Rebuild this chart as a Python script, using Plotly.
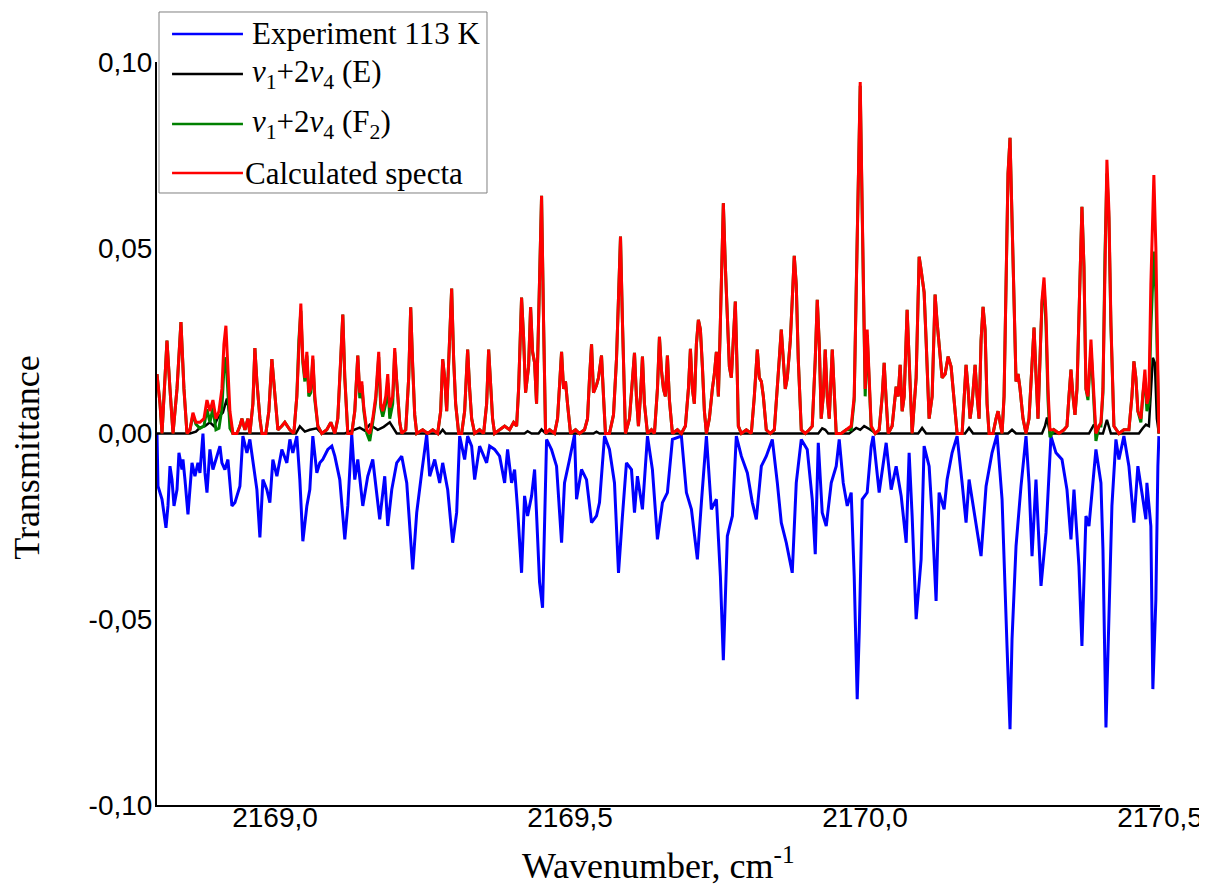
import plotly.graph_objects as go

# Wavenumber grid for calculated spectra (cm-1)
CALC_WN = [
    2168.8000, 2168.8051, 2168.8085, 2168.8119, 2168.8169, 2168.8220, 2168.8271, 2168.8339, 2168.8406, 2168.8457,
    2168.8508, 2168.8559, 2168.8609, 2168.8660, 2168.8728, 2168.8796, 2168.8847, 2168.8897, 2168.8948, 2168.8999,
    2168.9050, 2168.9100, 2168.9134, 2168.9168, 2168.9202, 2168.9236, 2168.9287, 2168.9354, 2168.9405, 2168.9439,
    2168.9490, 2168.9541, 2168.9574, 2168.9625, 2168.9659, 2168.9693, 2168.9744, 2168.9778, 2168.9845, 2168.9896,
    2168.9947, 2168.9998, 2169.0049, 2169.0116, 2169.0167, 2169.0252, 2169.0319, 2169.0370, 2169.0404, 2169.0438,
    2169.0472, 2169.0506, 2169.0540, 2169.0573, 2169.0607, 2169.0641, 2169.0675, 2169.0726, 2169.0793, 2169.0878,
    2169.0946, 2169.1014, 2169.1064, 2169.1115, 2169.1149, 2169.1183, 2169.1234, 2169.1301, 2169.1352, 2169.1403,
    2169.1437, 2169.1471, 2169.1505, 2169.1555, 2169.1606, 2169.1657, 2169.1708, 2169.1758, 2169.1792, 2169.1826,
    2169.1877, 2169.1911, 2169.1945, 2169.1995, 2169.2029, 2169.2063, 2169.2114, 2169.2148, 2169.2216, 2169.2266,
    2169.2300, 2169.2334, 2169.2368, 2169.2402, 2169.2503, 2169.2588, 2169.2673, 2169.2757, 2169.2808, 2169.2842,
    2169.2876, 2169.2910, 2169.2944, 2169.2994, 2169.3028, 2169.3062, 2169.3113, 2169.3164, 2169.3214, 2169.3265,
    2169.3299, 2169.3333, 2169.3384, 2169.3468, 2169.3536, 2169.3587, 2169.3621, 2169.3655, 2169.3688, 2169.3722,
    2169.3807, 2169.3892, 2169.3976, 2169.4044, 2169.4095, 2169.4129, 2169.4179, 2169.4213, 2169.4247, 2169.4298,
    2169.4332, 2169.4366, 2169.4400, 2169.4433, 2169.4467, 2169.4501, 2169.4518, 2169.4552, 2169.4586, 2169.4653,
    2169.4738, 2169.4789, 2169.4823, 2169.4857, 2169.4891, 2169.4924, 2169.4958, 2169.5009, 2169.5094, 2169.5161,
    2169.5246, 2169.5297, 2169.5331, 2169.5365, 2169.5398, 2169.5449, 2169.5483, 2169.5534, 2169.5568, 2169.5601,
    2169.5669, 2169.5737, 2169.5788, 2169.5822, 2169.5856, 2169.5889, 2169.5940, 2169.6008, 2169.6059, 2169.6093,
    2169.6126, 2169.6160, 2169.6194, 2169.6228, 2169.6262, 2169.6313, 2169.6380, 2169.6431, 2169.6482, 2169.6516,
    2169.6550, 2169.6584, 2169.6617, 2169.6651, 2169.6685, 2169.6736, 2169.6821, 2169.6888, 2169.6956, 2169.7007,
    2169.7041, 2169.7074, 2169.7108, 2169.7142, 2169.7176, 2169.7210, 2169.7244, 2169.7278, 2169.7312, 2169.7362,
    2169.7413, 2169.7447, 2169.7481, 2169.7515, 2169.7549, 2169.7582, 2169.7599, 2169.7633, 2169.7667, 2169.7701,
    2169.7735, 2169.7769, 2169.7802, 2169.7836, 2169.7853, 2169.7904, 2169.7989, 2169.8073, 2169.8124, 2169.8175,
    2169.8209, 2169.8243, 2169.8277, 2169.8327, 2169.8395, 2169.8463, 2169.8497, 2169.8547, 2169.8581, 2169.8615,
    2169.8649, 2169.8683, 2169.8734, 2169.8767, 2169.8801, 2169.8835, 2169.8869, 2169.8920, 2169.8988, 2169.9055,
    2169.9106, 2169.9157, 2169.9191, 2169.9225, 2169.9258, 2169.9292, 2169.9326, 2169.9360, 2169.9394, 2169.9445,
    2169.9479, 2169.9512, 2169.9597, 2169.9682, 2169.9766, 2169.9817, 2169.9851, 2169.9885, 2169.9919, 2169.9953,
    2169.9986, 2170.0003, 2170.0037, 2170.0071, 2170.0105, 2170.0173, 2170.0240, 2170.0291, 2170.0325, 2170.0359,
    2170.0393, 2170.0460, 2170.0494, 2170.0528, 2170.0562, 2170.0596, 2170.0630, 2170.0664, 2170.0714, 2170.0748,
    2170.0799, 2170.0867, 2170.0918, 2170.0951, 2170.1002, 2170.1036, 2170.1087, 2170.1138, 2170.1188, 2170.1222,
    2170.1256, 2170.1307, 2170.1358, 2170.1409, 2170.1459, 2170.1510, 2170.1561, 2170.1646, 2170.1679, 2170.1713,
    2170.1747, 2170.1781, 2170.1815, 2170.1866, 2170.1900, 2170.1933, 2170.1967, 2170.2001, 2170.2035, 2170.2069,
    2170.2103, 2170.2170, 2170.2221, 2170.2255, 2170.2289, 2170.2323, 2170.2357, 2170.2391, 2170.2424, 2170.2458,
    2170.2492, 2170.2526, 2170.2560, 2170.2594, 2170.2628, 2170.2678, 2170.2729, 2170.2780, 2170.2831, 2170.2865,
    2170.2898, 2170.2932, 2170.2966, 2170.3000, 2170.3034, 2170.3068, 2170.3102, 2170.3135, 2170.3203, 2170.3288,
    2170.3372, 2170.3423, 2170.3457, 2170.3491, 2170.3525, 2170.3559, 2170.3593, 2170.3643, 2170.3677, 2170.3711,
    2170.3745, 2170.3779, 2170.3830, 2170.3864, 2170.3914, 2170.3965, 2170.3999, 2170.4033, 2170.4067, 2170.4100,
    2170.4134, 2170.4168, 2170.4219, 2170.4304, 2170.4388, 2170.4473, 2170.4524, 2170.4558, 2170.4591, 2170.4625,
    2170.4676, 2170.4710, 2170.4744, 2170.4778, 2170.4812, 2170.4845, 2170.4879, 2170.4896, 2170.4930, 2170.4964,
    2170.4981,
]

# Calculated spectrum (red)
CALC_TOTAL = [
    0.016, 0.008, 0.000, 0.010, 0.025, 0.012, 0.000, 0.012, 0.030, 0.012,
    0.000, 0.001, 0.0056, 0.003, 0.003, 0.004, 0.009, 0.006, 0.009, 0.004,
    0.006, 0.012, 0.024, 0.029, 0.018, 0.006, 0.000, 0.000, 0.002, 0.004,
    0.001, 0.004, 0.000, 0.008, 0.023, 0.014, 0.004, 0.000, 0.000, 0.006,
    0.020, 0.010, 0.001, 0.002, 0.003, 0.001, 0.000, 0.010, 0.025, 0.035,
    0.020, 0.015, 0.022, 0.011, 0.012, 0.021, 0.010, 0.002, 0.000, 0.001,
    0.003, 0.000, 0.004, 0.020, 0.032, 0.015, 0.000, 0.000, 0.006, 0.021,
    0.011, 0.014, 0.007, 0.001, 0.000, 0.004, 0.010, 0.022, 0.008, 0.006,
    0.010, 0.016, 0.007, 0.010, 0.023, 0.014, 0.003, 0.000, 0.001, 0.015,
    0.034, 0.018, 0.005, 0.000, 0.001, 0.000, 0.001, 0.000, 0.006, 0.020,
    0.015, 0.006, 0.018, 0.039, 0.020, 0.008, 0.000, 0.000, 0.006, 0.0226,
    0.012, 0.004, 0.000, 0.001, 0.000, 0.008, 0.0226, 0.012, 0.004, 0.000,
    0.001, 0.002, 0.001, 0.003, 0.002, 0.012, 0.0366, 0.026, 0.011, 0.018,
    0.034, 0.022, 0.019, 0.008, 0.030, 0.055, 0.064, 0.030, 0.000, 0.001,
    0.000, 0.004, 0.014, 0.022, 0.012, 0.014, 0.008, 0.000, 0.001, 0.000,
    0.001, 0.004, 0.015, 0.024, 0.011, 0.013, 0.015, 0.021, 0.010, 0.000,
    0.000, 0.005, 0.020, 0.040, 0.053, 0.030, 0.000, 0.004, 0.015, 0.0217,
    0.010, 0.002, 0.010, 0.0207, 0.008, 0.000, 0.001, 0.000, 0.012, 0.026,
    0.017, 0.012, 0.010, 0.021, 0.009, 0.000, 0.001, 0.000, 0.002, 0.012,
    0.0228, 0.012, 0.008, 0.024, 0.0306, 0.028, 0.018, 0.006, 0.000, 0.004,
    0.012, 0.016, 0.022, 0.010, 0.030, 0.058, 0.062, 0.045, 0.030, 0.018,
    0.015, 0.026, 0.0355, 0.015, 0.002, 0.000, 0.001, 0.000, 0.010, 0.0226,
    0.015, 0.014, 0.010, 0.001, 0.000, 0.001, 0.008, 0.020, 0.028, 0.020,
    0.012, 0.015, 0.025, 0.036, 0.0478, 0.040, 0.020, 0.001, 0.000, 0.001,
    0.002, 0.020, 0.036, 0.024, 0.004, 0.010, 0.0226, 0.010, 0.004, 0.0226,
    0.010, 0.000, 0.000, 0.001, 0.002, 0.010, 0.040, 0.070, 0.0946, 0.060,
    0.020, 0.012, 0.028, 0.016, 0.002, 0.000, 0.001, 0.010, 0.019, 0.009,
    0.000, 0.002, 0.008, 0.0126, 0.010, 0.0185, 0.006, 0.010, 0.0333, 0.018,
    0.000, 0.015, 0.0476, 0.044, 0.038, 0.025, 0.004, 0.010, 0.0374, 0.030,
    0.024, 0.015, 0.016, 0.0207, 0.018, 0.008, 0.000, 0.000, 0.008, 0.0185,
    0.012, 0.004, 0.008, 0.0185, 0.010, 0.004, 0.025, 0.0341, 0.028, 0.008,
    0.000, 0.000, 0.004, 0.006, 0.003, 0.000, 0.010, 0.040, 0.070, 0.0796,
    0.060, 0.034, 0.014, 0.016, 0.012, 0.004, 0.000, 0.004, 0.018, 0.0285,
    0.016, 0.004, 0.020, 0.036, 0.042, 0.032, 0.012, 0.001, 0.001, 0.000,
    0.001, 0.002, 0.010, 0.0172, 0.010, 0.005, 0.012, 0.045, 0.061, 0.045,
    0.012, 0.010, 0.0253, 0.015, 0.000, 0.002, 0.003, 0.012, 0.050, 0.0737,
    0.060, 0.030, 0.002, 0.000, 0.001, 0.001, 0.010, 0.0194, 0.015, 0.006,
    0.004, 0.012, 0.0172, 0.008, 0.010, 0.040, 0.065, 0.0696, 0.050, 0.015,
    0.000,
]

# v1+2v4 (F2) band (green)
CALC_F2 = [
    0.016, 0.008, 0.000, 0.010, 0.025, 0.012, 0.000, 0.012, 0.030, 0.012,
    0.000, 0.001, 0.005, 0.0025, 0.0014, 0.002, 0.0065, 0.003, 0.0068, 0.001,
    0.0014, 0.0067, 0.0174, 0.0205, 0.0102, 0.0014, 0.000, 0.000, 0.002, 0.004,
    0.001, 0.004, 0.000, 0.008, 0.023, 0.014, 0.004, 0.000, 0.000, 0.006,
    0.020, 0.010, 0.001, 0.002, 0.003, 0.001, 0.000, 0.010, 0.025, 0.033,
    0.019, 0.014, 0.021, 0.010, 0.011, 0.020, 0.009, 0.002, 0.000, 0.001,
    0.003, 0.000, 0.004, 0.020, 0.032, 0.015, 0.000, 0.000, 0.006, 0.021,
    0.0095, 0.013, 0.0062, 0.0001, -0.002, 0.003, 0.009, 0.0206, 0.007, 0.0045,
    0.008, 0.0136, 0.004, 0.008, 0.022, 0.014, 0.003, 0.000, 0.001, 0.015,
    0.034, 0.018, 0.005, 0.000, 0.001, 0.000, 0.001, 0.000, 0.006, 0.020,
    0.015, 0.006, 0.018, 0.039, 0.020, 0.008, 0.000, 0.000, 0.006, 0.0226,
    0.012, 0.004, 0.000, 0.001, 0.000, 0.008, 0.0226, 0.012, 0.004, 0.000,
    0.001, 0.002, 0.001, 0.003, 0.002, 0.012, 0.0366, 0.026, 0.011, 0.018,
    0.034, 0.022, 0.019, 0.008, 0.030, 0.055, 0.064, 0.030, 0.000, 0.001,
    0.000, 0.004, 0.014, 0.022, 0.012, 0.014, 0.008, 0.000, 0.001, 0.000,
    0.001, 0.004, 0.015, 0.024, 0.011, 0.013, 0.015, 0.021, 0.010, 0.000,
    0.000, 0.005, 0.020, 0.040, 0.053, 0.030, 0.000, 0.004, 0.015, 0.0217,
    0.010, 0.002, 0.010, 0.0207, 0.008, 0.000, 0.001, 0.000, 0.012, 0.026,
    0.017, 0.012, 0.010, 0.021, 0.009, 0.000, 0.001, 0.000, 0.002, 0.012,
    0.0228, 0.012, 0.008, 0.024, 0.0306, 0.028, 0.018, 0.006, 0.000, 0.004,
    0.012, 0.016, 0.022, 0.010, 0.030, 0.058, 0.062, 0.045, 0.030, 0.018,
    0.015, 0.026, 0.0355, 0.015, 0.002, 0.000, 0.001, 0.000, 0.010, 0.0226,
    0.015, 0.014, 0.010, 0.001, 0.000, 0.001, 0.008, 0.020, 0.028, 0.020,
    0.012, 0.015, 0.025, 0.036, 0.0478, 0.040, 0.020, 0.001, 0.000, 0.001,
    0.002, 0.020, 0.036, 0.024, 0.004, 0.010, 0.0226, 0.010, 0.004, 0.0226,
    0.010, 0.000, 0.000, 0.001, 0.001, 0.009, 0.0388, 0.069, 0.0936, 0.059,
    0.018, 0.010, 0.0265, 0.0148, 0.0015, 0.000, 0.001, 0.010, 0.019, 0.009,
    0.000, 0.002, 0.008, 0.0126, 0.010, 0.0185, 0.006, 0.010, 0.0333, 0.018,
    0.000, 0.015, 0.0476, 0.044, 0.038, 0.025, 0.004, 0.010, 0.0374, 0.030,
    0.024, 0.015, 0.016, 0.0207, 0.018, 0.008, 0.000, 0.000, 0.008, 0.0185,
    0.012, 0.004, 0.008, 0.0185, 0.010, 0.004, 0.025, 0.0341, 0.028, 0.008,
    0.000, 0.000, 0.004, 0.006, 0.003, 0.000, 0.010, 0.040, 0.070, 0.0796,
    0.060, 0.034, 0.014, 0.016, 0.012, 0.004, 0.000, 0.004, 0.018, 0.0285,
    0.016, 0.004, 0.020, 0.035, 0.040, 0.029, 0.009, -0.001, 0.001, 0.000,
    0.001, 0.002, 0.010, 0.0172, 0.010, 0.005, 0.012, 0.045, 0.061, 0.045,
    0.012, 0.009, 0.023, 0.013, -0.002, 0.002, 0.002, 0.011, 0.048, 0.070,
    0.058, 0.029, 0.002, 0.000, 0.001, 0.001, 0.010, 0.0194, 0.015, 0.006,
    0.003, 0.0105, 0.015, 0.006, 0.008, 0.028, 0.045, 0.049, 0.038, 0.012,
    0.000,
]

# v1+2v4 (E) band (black)
E_WN = [
    2168.8000, 2168.8559, 2168.8660, 2168.8728, 2168.8813, 2168.8897, 2168.8965, 2168.9033, 2168.9117, 2168.9185,
    2168.9236, 2168.9287, 2169.0353, 2169.0421, 2169.0506, 2169.0590, 2169.0709, 2169.0793, 2169.1183, 2169.1267,
    2169.1437, 2169.1521, 2169.1606, 2169.1742, 2169.1843, 2169.1945, 2169.2063, 2169.2791, 2169.2842, 2169.2893,
    2169.4230, 2169.4281, 2169.4349, 2169.4467, 2169.4518, 2169.4586, 2169.5398, 2169.5449, 2169.5500, 2169.9208,
    2169.9275, 2169.9326, 2169.9377, 2169.9732, 2169.9851, 2169.9919, 2169.9986, 2170.0071, 2170.0190, 2170.0901,
    2170.0968, 2170.1036, 2170.1696, 2170.1764, 2170.1832, 2170.2424, 2170.2492, 2170.2560, 2170.3000, 2170.3051,
    2170.3085, 2170.3135, 2170.3796, 2170.3880, 2170.3965, 2170.4033, 2170.4100, 2170.4168, 2170.4642, 2170.4710,
    2170.4761, 2170.4812, 2170.4845, 2170.4879, 2170.4913, 2170.4947, 2170.4981,
]
E_BAND = [
    0.0, 0.0, 0.0005, 0.0016, 0.002, 0.003, 0.002, 0.0043, 0.0056, 0.0094,
    0.0046, 0.0, 0.0, 0.0019, 0.0005, 0.001, 0.0014, 0.0, 0.0, 0.0005,
    0.0016, 0.0008, 0.0024, 0.001, 0.0018, 0.003, 0.0, 0.0, 0.001, 0.0,
    0.0, 0.0006, 0.0, 0.0, 0.0011, 0.0, 0.0, 0.0005, 0.0, 0.0,
    0.0014, 0.001, 0.0, 0.0, 0.0015, 0.001, 0.002, 0.0012, 0.0, 0.0,
    0.0015, 0.0, 0.0, 0.0015, 0.0, 0.0, 0.001, 0.0, 0.0, 0.002,
    0.0043, 0.0, 0.0, 0.0024, 0.0, 0.0, 0.0037, 0.0, 0.0, 0.0015,
    0.0024, 0.002, 0.012, 0.0204, 0.019, 0.004, 0.0,
]

# Experiment 113 K (blue)
EXP_WN = [
    2168.8000, 2168.8017, 2168.8085, 2168.8152, 2168.8186, 2168.8220, 2168.8254, 2168.8288, 2168.8339, 2168.8372,
    2168.8423, 2168.8440, 2168.8474, 2168.8525, 2168.8593, 2168.8643, 2168.8694, 2168.8728, 2168.8779, 2168.8813,
    2168.8847, 2168.8897, 2168.8948, 2168.9016, 2168.9067, 2168.9100, 2168.9151, 2168.9202, 2168.9270, 2168.9321,
    2168.9405, 2168.9456, 2168.9524, 2168.9574, 2168.9625, 2168.9693, 2168.9744, 2168.9795, 2168.9862, 2168.9913,
    2168.9964, 2169.0032, 2169.0116, 2169.0201, 2169.0252, 2169.0302, 2169.0370, 2169.0421, 2169.0472, 2169.0540,
    2169.0590, 2169.0641, 2169.0709, 2169.0760, 2169.0810, 2169.0895, 2169.0963, 2169.1014, 2169.1098, 2169.1183,
    2169.1234, 2169.1301, 2169.1352, 2169.1403, 2169.1488, 2169.1572, 2169.1657, 2169.1775, 2169.1860, 2169.1911,
    2169.1979, 2169.2063, 2169.2148, 2169.2233, 2169.2334, 2169.2402, 2169.2486, 2169.2571, 2169.2622, 2169.2707,
    2169.2791, 2169.2842, 2169.2927, 2169.3011, 2169.3079, 2169.3130, 2169.3214, 2169.3265, 2169.3333, 2169.3384,
    2169.3468, 2169.3587, 2169.3638, 2169.3722, 2169.3807, 2169.3892, 2169.3942, 2169.4010, 2169.4061, 2169.4112,
    2169.4179, 2169.4230, 2169.4281, 2169.4349, 2169.4400, 2169.4433, 2169.4484, 2169.4535, 2169.4569, 2169.4603,
    2169.4687, 2169.4772, 2169.4857, 2169.4907, 2169.4992, 2169.5077, 2169.5111, 2169.5195, 2169.5280, 2169.5365,
    2169.5449, 2169.5500, 2169.5585, 2169.5669, 2169.5754, 2169.5822, 2169.5889, 2169.5957, 2169.6042, 2169.6093,
    2169.6143, 2169.6228, 2169.6313, 2169.6397, 2169.6482, 2169.6567, 2169.6651, 2169.6736, 2169.6888, 2169.6973,
    2169.7058, 2169.7159, 2169.7227, 2169.7312, 2169.7396, 2169.7481, 2169.7549, 2169.7599, 2169.7667, 2169.7752,
    2169.7819, 2169.7904, 2169.8006, 2169.8090, 2169.8158, 2169.8243, 2169.8327, 2169.8429, 2169.8514, 2169.8581,
    2169.8666, 2169.8767, 2169.8835, 2169.8920, 2169.9021, 2169.9106, 2169.9157, 2169.9208, 2169.9275, 2169.9343,
    2169.9428, 2169.9512, 2169.9563, 2169.9631, 2169.9699, 2169.9766, 2169.9817, 2169.9868, 2169.9902, 2169.9953,
    2170.0037, 2170.0105, 2170.0139, 2170.0240, 2170.0359, 2170.0444, 2170.0528, 2170.0613, 2170.0698, 2170.0748,
    2170.0799, 2170.0867, 2170.0951, 2170.1002, 2170.1087, 2170.1138, 2170.1205, 2170.1256, 2170.1341, 2170.1392,
    2170.1476, 2170.1561, 2170.1646, 2170.1713, 2170.1764, 2170.1849, 2170.1967, 2170.2052, 2170.2153, 2170.2238,
    2170.2323, 2170.2407, 2170.2458, 2170.2492, 2170.2560, 2170.2644, 2170.2729, 2170.2780, 2170.2831, 2170.2898,
    2170.2983, 2170.3068, 2170.3152, 2170.3237, 2170.3339, 2170.3423, 2170.3491, 2170.3542, 2170.3626, 2170.3677,
    2170.3745, 2170.3796, 2170.3914, 2170.3999, 2170.4033, 2170.4084, 2170.4134, 2170.4185, 2170.4253, 2170.4304,
    2170.4388, 2170.4473, 2170.4558, 2170.4625, 2170.4693, 2170.4761, 2170.4778, 2170.4845, 2170.4879, 2170.4930,
    2170.4964, 2170.4981,
]
EXP_113K = [
    0.0, -0.0142, -0.0177, -0.0254, -0.0195, -0.0088, -0.0124, -0.0195, -0.0151, -0.0052,
    -0.0097, -0.0070, -0.0124, -0.0218, -0.0079, -0.0115, -0.0079, -0.0106, 0.0, -0.0106,
    -0.0159, -0.0043, -0.0097, -0.0061, -0.0034, -0.0079, -0.0097, -0.0070, -0.0195, -0.0186,
    -0.0142, -0.0007, -0.0052, -0.0016, -0.0079, -0.0151, -0.0280, -0.0124, -0.0151, -0.0186,
    -0.0070, -0.0115, -0.0043, -0.0079, -0.0016, -0.0052, -0.0007, -0.0124, -0.0290, -0.0195,
    -0.0151, -0.0007, -0.0106, -0.0079, -0.0070, -0.0043, -0.0034, -0.0061, -0.0124, -0.0285,
    -0.0195, -0.0003, -0.0124, -0.0070, -0.0195, -0.0115, -0.0070, -0.0231, -0.0115, -0.0249,
    -0.0151, -0.0079, -0.0061, -0.0133, -0.0366, -0.0213, -0.0106, -0.0003, -0.0115, -0.0070,
    -0.0133, -0.0079, -0.0151, -0.0294, -0.0213, -0.0007, -0.0070, -0.0007, -0.0034, -0.0124,
    -0.0034, -0.0079, -0.0034, -0.0043, -0.0061, -0.0133, -0.0043, -0.0133, -0.0097, -0.0204,
    -0.0375, -0.0168, -0.0222, -0.0168, -0.0097, -0.0222, -0.0401, -0.0469, -0.0222, -0.0016,
    -0.0043, -0.0088, -0.0294, -0.0133, -0.0070, -0.0003, -0.0177, -0.0097, -0.0124, -0.0240,
    -0.0222, -0.0186, -0.0007, -0.0043, -0.0133, -0.0375, -0.0222, -0.0079, -0.0097, -0.0213,
    -0.0115, -0.0204, -0.0007, -0.0097, -0.0285, -0.0186, -0.0159, -0.0016, -0.0007, -0.0159,
    -0.0204, -0.0339, -0.0186, -0.0007, -0.0204, -0.0177, -0.0384, -0.0610, -0.0276, -0.0222,
    -0.0007, -0.0061, -0.0106, -0.0186, -0.0231, -0.0088, -0.0061, -0.0016, -0.0133, -0.0240,
    -0.0294, -0.0375, -0.0133, -0.0016, -0.0043, -0.0177, -0.0325, -0.0025, -0.0213, -0.0249,
    -0.0133, -0.0088, -0.0016, -0.0133, -0.0195, -0.0159, -0.0384, -0.0715, -0.0536, -0.0177,
    -0.0159, -0.0034, -0.0007, -0.0159, -0.0025, -0.0151, -0.0088, -0.0168, -0.0294, -0.0052,
    -0.0222, -0.0500, -0.0339, -0.0034, -0.0088, -0.0222, -0.0451, -0.0159, -0.0204, -0.0124,
    -0.0052, -0.0007, -0.0133, -0.0240, -0.0124, -0.0213, -0.0330, -0.0142, -0.0052, -0.0003,
    -0.0177, -0.0572, -0.0796, -0.0554, -0.0303, -0.0142, -0.0007, -0.0133, -0.0330, -0.0124,
    -0.0410, -0.0267, -0.0007, -0.0052, -0.0070, -0.0151, -0.0285, -0.0151, -0.0357, -0.0572,
    -0.0222, -0.0249, -0.0043, -0.0133, -0.0312, -0.0791, -0.0491, -0.0195, -0.0016, -0.0070,
    -0.0007, -0.0088, -0.0240, -0.0088, -0.0159, -0.0231, -0.0133, -0.0249, -0.0688, -0.0446,
    -0.0088, -0.0007,
]

X_TICKS = [2169.0, 2169.5, 2170.0, 2170.5]
X_TICK_TEXT = ["2169,0", "2169,5", "2170,0", "2170,5"]
Y_TICKS = [-0.10, -0.05, 0.00, 0.05, 0.10]
Y_TICK_TEXT = ["-0,10", "-0,05", "0,00", "0,05", "0,10"]

SERIES_NAMES = [
    "Experiment 113 K",
    "<i>v</i><sub>1</sub>+2<i>v</i><sub>4</sub> (E)",
    "<i>v</i><sub>1</sub>+2<i>v</i><sub>4</sub> (F<sub>2</sub>)",
    "Calculated specta",
]
COLORS = ["#0000FF", "#000000", "#008000", "#FF0000"]

SERIF = "Liberation Serif, Times New Roman, serif"
SANS = "Liberation Sans, Arial, sans-serif"

fig = go.Figure()
fig.add_trace(go.Scatter(x=EXP_WN, y=EXP_113K, mode="lines",
                         line=dict(color=COLORS[0], width=3), name=SERIES_NAMES[0]))
fig.add_trace(go.Scatter(x=E_WN, y=E_BAND, mode="lines",
                         line=dict(color=COLORS[1], width=2.5), name=SERIES_NAMES[1]))
fig.add_trace(go.Scatter(x=CALC_WN, y=CALC_F2, mode="lines",
                         line=dict(color=COLORS[2], width=3), name=SERIES_NAMES[2]))
fig.add_trace(go.Scatter(x=CALC_WN, y=CALC_TOTAL, mode="lines",
                         line=dict(color=COLORS[3], width=3), name=SERIES_NAMES[3]))

axis_style = dict(showline=True, linecolor="black", linewidth=2, mirror=False,
                  showgrid=False, zeroline=False, ticks="", automargin=False,
                  ticklabeloverflow="allow")

# the page body adds an 8 px offset, so the figure is a little smaller than the window
fig.update_layout(
    width=1199, height=882,
    margin=dict(l=149, r=47, t=54, b=85),
    paper_bgcolor="white", plot_bgcolor="white",
    showlegend=False,
    xaxis=dict(range=[2168.8, 2170.5], tickvals=X_TICKS, ticktext=X_TICK_TEXT,
               ticklabelstandoff=-14, tickfont=dict(family=SANS, size=28, color="black"),
               **axis_style),
    yaxis=dict(range=[-0.1, 0.1], tickvals=Y_TICKS, ticktext=Y_TICK_TEXT,
               ticklabelstandoff=-3, tickfont=dict(family=SANS, size=28, color="black"),
               **axis_style),
)

# axis titles
fig.add_annotation(text="Transmittance", xref="paper", yref="paper", x=-0.151, y=0.468,
                   textangle=-90, showarrow=False, font=dict(family=SERIF, size=36, color="black"))
fig.add_annotation(text="Wavenumber, cm<sup>-1</sup>", xref="paper", yref="paper", x=0.5, y=-0.046,
                   xanchor="center", yanchor="top", showarrow=False,
                   font=dict(family=SERIF, size=36, color="black"))

# legend box drawn by hand to get the long line samples
fig.add_shape(type="rect", xref="paper", yref="paper", x0=0.002, x1=0.329, y0=0.8237, y1=1.0673,
              line=dict(color="#808080", width=1), fillcolor="white", layer="above")
row_y = [1.0377, 0.9839, 0.9166, 0.8506]
for i, name in enumerate(SERIES_NAMES):
    fig.add_shape(type="line", xref="paper", yref="paper", x0=0.015, x1=0.0857,
                  y0=row_y[i], y1=row_y[i], line=dict(color=COLORS[i], width=2.5), layer="above")
    fig.add_annotation(text=name, xref="paper", yref="paper",
                       x=0.0857 if i == 3 else 0.0927, y=row_y[i],
                       xanchor="left", yanchor="middle", showarrow=False,
                       font=dict(family=SERIF, size=31, color="black"))

fig.write_html("out.html")
